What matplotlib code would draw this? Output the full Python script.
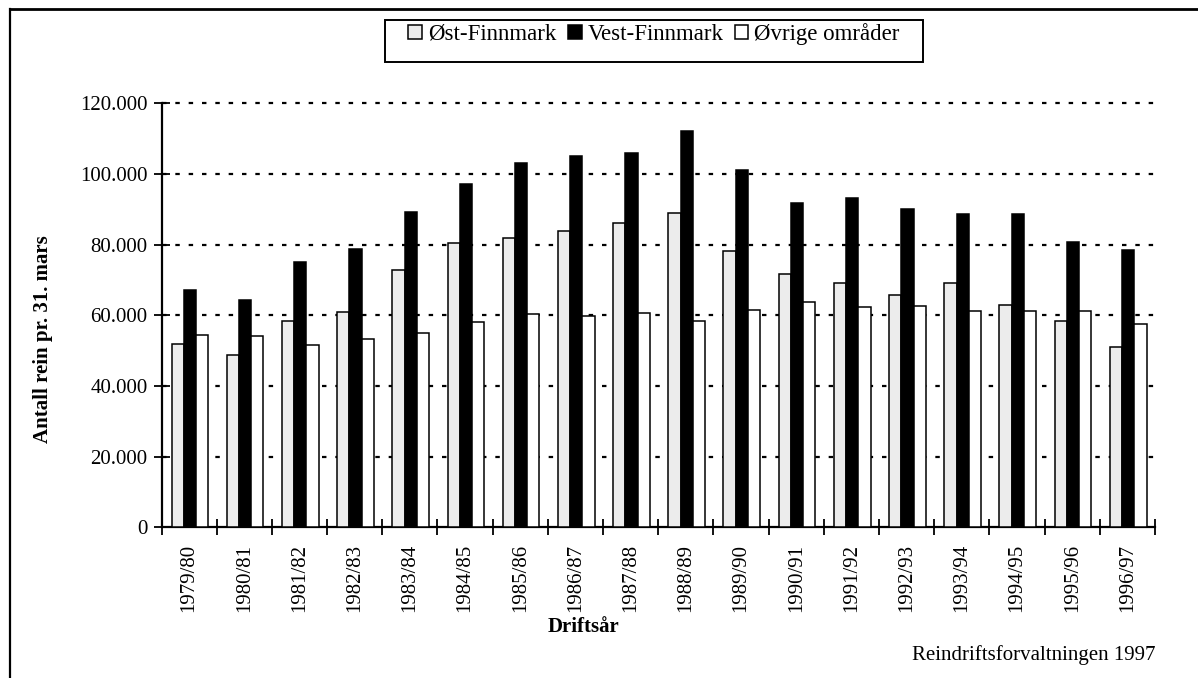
import matplotlib
matplotlib.use("Agg")
import matplotlib.pyplot as plt
import numpy as np
from matplotlib.patches import Rectangle, Patch
from matplotlib.lines import Line2D

years = ["1979/80", "1980/81", "1981/82", "1982/83", "1983/84", "1984/85",
         "1985/86", "1986/87", "1987/88", "1988/89", "1989/90", "1990/91",
         "1991/92", "1992/93", "1993/94", "1994/95", "1995/96", "1996/97"]
ost = [51900, 48800, 58400, 60800, 72900, 80500, 82000, 83900, 86200, 88900,
       78200, 71800, 69200, 65700, 69200, 62900, 58300, 51000]
vest = [67100, 64400, 75100, 78900, 89300, 97100, 103200, 105000, 105900, 112200,
        101000, 91700, 93300, 90200, 88800, 88600, 80800, 78400]
ovrige = [54500, 54200, 51500, 53300, 54900, 58200, 60400, 59800, 60600, 58300,
          61600, 63700, 62400, 62600, 61100, 61100, 61100, 57400]
series_names = ["Øst-Finnmark", "Vest-Finnmark", "Øvrige områder"]
yticks = [0, 20000, 40000, 60000, 80000, 100000, 120000]
ytick_labels = ["0", "20.000", "40.000", "60.000", "80.000", "100.000", "120.000"]

serif = ["Liberation Serif", "DejaVu Serif"]
plt.rcParams["font.family"] = serif

W, H = 1198, 678
fig = plt.figure(figsize=(W / 100, H / 100), dpi=100)
ax = fig.add_axes([161.5 / W, 1 - 527.3 / H, (1155 - 161.5) / W, (527.3 - 103.3) / H])

x = np.arange(len(years))
w = 0.222
colors = ["#ececec", "black", "white"]
for i, (vals, c) in enumerate(zip([ost, vest, ovrige], colors)):
    ax.bar(x + (i - 1) * w + 0.015, vals, width=w, color=c, edgecolor="black",
           linewidth=1.1, zorder=3)

ax.set_xlim(-0.5, len(years) - 0.5)
ax.set_ylim(0, 120000)
ax.set_yticks(yticks)
ax.set_yticklabels(ytick_labels, fontsize=15)
ax.set_xticks(np.arange(-0.5, len(years)), minor=False)
ax.set_xticklabels([])
ax.set_xticks(x, minor=True)
ax.set_xticklabels(years, minor=True, rotation=90, fontsize=15)
ax.tick_params(axis="x", which="major", direction="inout", length=12, width=1.3)
ax.tick_params(axis="x", which="minor", length=0, pad=12)
ax.tick_params(axis="y", direction="inout", length=12, width=1.3, pad=4)

for v in yticks[1:]:
    ax.axhline(v, color="black", linewidth=1.6, linestyle=(0, (2, 4)), zorder=1,
               clip_on=False)

for s in ["top", "right"]:
    ax.spines[s].set_visible(False)
ax.spines["left"].set_linewidth(1.6)
ax.spines["bottom"].set_linewidth(1.6)

ax.set_ylabel("Antall rein pr. 31. mars", fontsize=15, fontweight="bold")
ax.yaxis.set_label_coords(53 / W, 0.5, transform=fig.transFigure)

fig.text(583 / W, 1 - 627 / H, "Driftsår", ha="center", va="center",
         fontsize=15, fontweight="bold")
fig.text(1155 / W, 1 - 655 / H, "Reindriftsforvaltningen 1997", ha="right",
         va="center", fontsize=15)

# legend
handles = [Patch(facecolor=c, edgecolor="black", linewidth=1.1) for c in colors]
leg = fig.legend(handles, series_names, loc="center",
                 bbox_to_anchor=(654 / W, 1 - 34 / H), ncol=3, frameon=False,
                 fontsize=16.5, handlelength=0.6, handleheight=0.6,
                 handletextpad=0.25, columnspacing=0.5)
fig.add_artist(Rectangle((385 / W, 1 - 62 / H), (923 - 385) / W, (62 - 20) / H,
                         transform=fig.transFigure, fill=False, edgecolor="black",
                         linewidth=1.4))

# outer frame
fig.add_artist(Line2D([10 / W, 10 / W], [0, 1 - 9 / H], transform=fig.transFigure,
                      color="black", linewidth=1.6))
fig.add_artist(Line2D([10 / W, 1], [1 - 9 / H, 1 - 9 / H], transform=fig.transFigure,
                      color="black", linewidth=2.0))

fig.savefig("out.png", dpi=100)
